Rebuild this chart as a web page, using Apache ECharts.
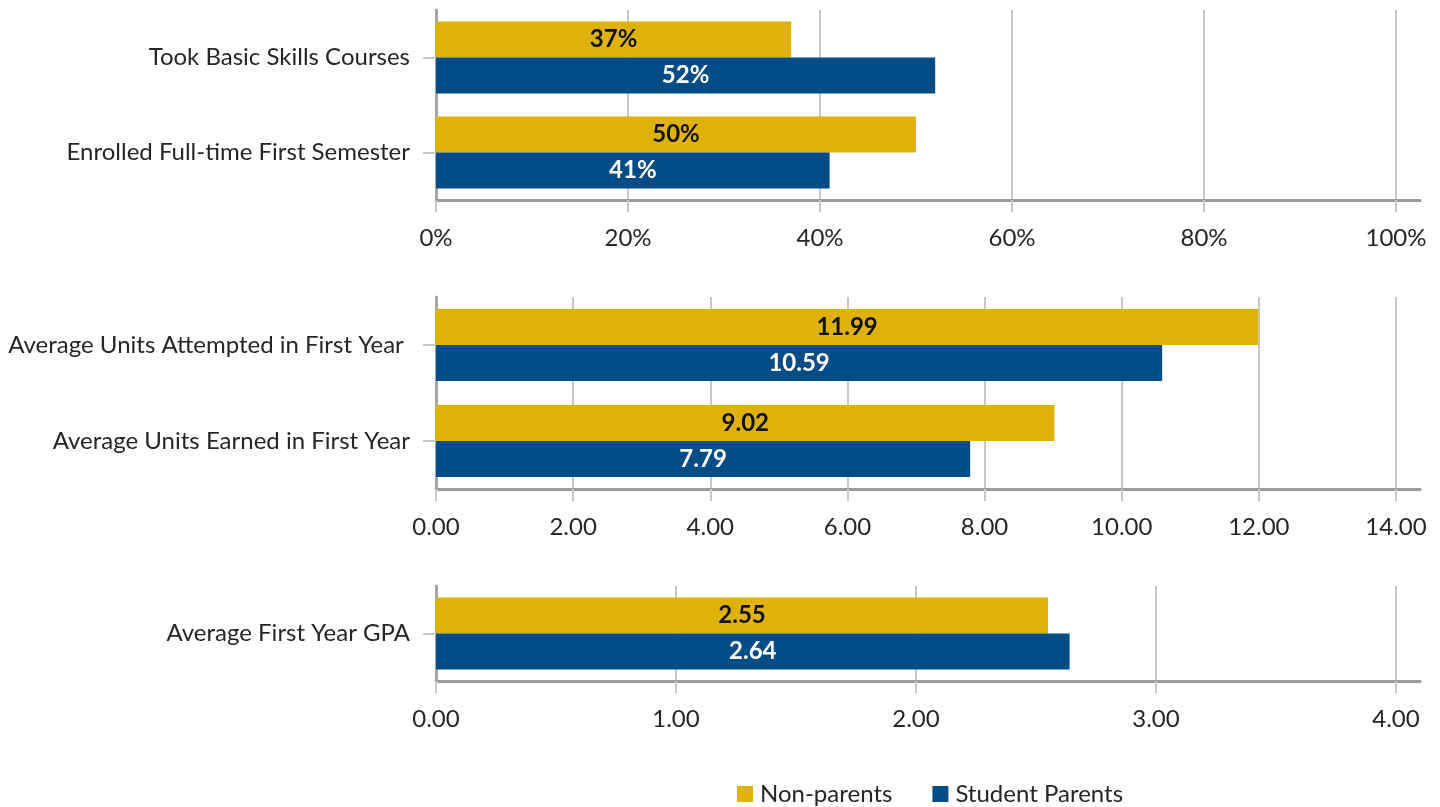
<!DOCTYPE html>
<html>
<head>
<meta charset="utf-8">
<script src="https://cdn.jsdelivr.net/npm/echarts@6/dist/echarts.min.js"></script>
<style>
html,body{margin:0;padding:0;background:#fff;}
#chart{width:1440px;height:807px;}
</style>
</head>
<body>
<div id="chart"></div>
<script>
// ---- data ----
var cats1 = ['Took Basic Skills Courses', 'Enrolled Full-time First Semester'];
var nonParents1 = [37, 50];
var parents1 = [52, 41];
var ticks1 = [0, 20, 40, 60, 80, 100];

var cats2 = ['Average Units Attempted in First Year ', 'Average Units Earned in First Year'];
var nonParents2 = [11.99, 9.02];
var parents2 = [10.59, 7.79];
var ticks2 = [0, 2, 4, 6, 8, 10, 12, 14];

var cats3 = ['Average First Year GPA'];
var nonParents3 = [2.55];
var parents3 = [2.64];
var ticks3 = [0, 1, 2, 3, 4];

var seriesNames = ['Non-parents', 'Student Parents'];

// ---- style ----
var YELLOW = '#DFB20A';
var BLUE = '#034C86';
var FONT = 'Lato';
var FS = 24;
var TEXT = '#262626';

var chart = echarts.init(document.getElementById('chart'));

function xAxisDef(idx, ticks, maxTick, fmt) {
  // axis line runs slightly past the last tick (as in the reference)
  var extMax = maxTick * 984 / 960;
  return {
    type: 'value', gridIndex: idx, min: 0, max: extMax,
    axisLine: {show: true, lineStyle: {color: '#9b9b9b', width: 3}},
    axisTick: {show: true, length: 12, lineStyle: {color: '#c8c8c8', width: 2}, customValues: ticks},
    axisLabel: {color: TEXT, fontFamily: FONT, fontSize: FS, margin: 26, formatter: fmt, customValues: ticks},
    splitLine: {show: true, lineStyle: {color: '#c8c8c8', width: 2}}
  };
}
function yAxisDef(idx, cats) {
  return {
    type: 'category', gridIndex: idx, data: cats, inverse: true,
    axisLine: {show: true, lineStyle: {color: '#a6a6a6', width: 3}},
    axisTick: {show: true, length: 13, alignWithLabel: true, lineStyle: {color: '#c8c8c8', width: 2}},
    axisLabel: {color: TEXT, fontFamily: FONT, fontSize: FS, margin: 26}
  };
}
function barDef(name, idx, data, color, labelColor, fmt) {
  return {
    type: 'bar', name: name, xAxisIndex: idx, yAxisIndex: idx, data: data,
    barWidth: 36, barGap: '0%',
    itemStyle: {color: color},
    label: {show: true, position: 'inside', color: labelColor, fontFamily: FONT,
      fontWeight: 'bold', fontSize: FS, formatter: fmt},
    emphasis: {disabled: true},
    animation: false
  };
}
var pct = function (v) { return v + '%'; };
var pctL = function (p) { return p.value + '%'; };
var dec = function (v) { return v.toFixed(2); };
var decL = function (p) { return p.value.toFixed(2); };

chart.setOption({
  animation: false,
  legend: {
    data: seriesNames, top: 782, left: 737, padding: 0,
    itemWidth: 16, itemHeight: 16, itemGap: 40, icon: 'rect',
    textStyle: {color: TEXT, fontFamily: FONT, fontSize: FS, padding: [0, 0, 0, 2]}
  },
  grid: [
    {left: 436, right: 20, top: 10, height: 190},
    {left: 436, right: 20, top: 297, height: 192},
    {left: 436, right: 20, top: 586, height: 95}
  ],
  xAxis: [
    xAxisDef(0, ticks1, 100, pct),
    xAxisDef(1, ticks2, 14, dec),
    xAxisDef(2, ticks3, 4, dec)
  ],
  yAxis: [yAxisDef(0, cats1), yAxisDef(1, cats2), yAxisDef(2, cats3)],
  series: [
    barDef(seriesNames[0], 0, nonParents1, YELLOW, '#111', pctL),
    barDef(seriesNames[1], 0, parents1, BLUE, '#fff', pctL),
    barDef(seriesNames[0], 1, nonParents2, YELLOW, '#111', decL),
    barDef(seriesNames[1], 1, parents2, BLUE, '#fff', decL),
    barDef(seriesNames[0], 2, nonParents3, YELLOW, '#111', decL),
    barDef(seriesNames[1], 2, parents3, BLUE, '#fff', decL)
  ]
});
</script>
</body>
</html>
